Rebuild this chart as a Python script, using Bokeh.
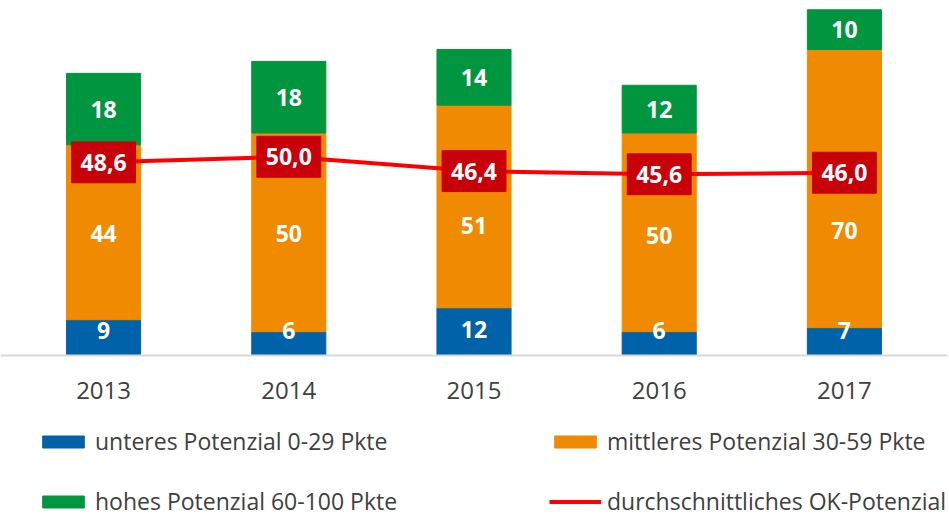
from bokeh.plotting import figure
from bokeh.models import Legend, LegendItem, ColumnDataSource, Range1d, FactorRange
from bokeh.core.properties import value
from bokeh.embed import file_html
from bokeh.resources import INLINE

years = ["2013", "2014", "2015", "2016", "2017"]
unteres = [9, 6, 12, 6, 7]
mittleres = [44, 50, 51, 50, 70]
hohes = [18, 18, 14, 12, 10]
durchschnitt = [48.6, 50.0, 46.4, 45.6, 46.0]

# label anchor heights (as placed in the original chart)
unteres_label_y = [6.3, 6.3, 6.5, 6.3, 6.3]
mittleres_label_y = [30.7, 30.7, 32.7, 30.2, 31.5]

BLUE = "#0062A8"
ORANGE = "#F08A00"
GREEN = "#009640"
RED_LINE = "#FF0000"
RED_BOX = "#C8000A"
TXT = "#404040"
FONT = "Open Sans"

mid_top = [a + b for a, b in zip(unteres, mittleres)]
high_top = [a + b for a, b in zip(mid_top, hohes)]
high_label_y = [(a + b) / 2 for a, b in zip(mid_top, high_top)]

src = ColumnDataSource(dict(
    x=years, low=unteres, mid_b=unteres, mid_t=mid_top, high_t=high_top,
    avg=durchschnitt,
    low_lbl=[str(v) for v in unteres], mid_lbl=[str(v) for v in mittleres],
    high_lbl=[str(v) for v in hohes],
    avg_lbl=[f"{v:.1f}".replace(".", ",") for v in durchschnitt],
    low_y=unteres_label_y, mid_y=mittleres_label_y, high_y=high_label_y,
))

p = figure(width=949, height=517,
           x_range=FactorRange(*years, range_padding=0.0567, range_padding_units="absolute"),
           y_range=Range1d(-40.77, 89.33), output_backend="svg", toolbar_location=None,
           min_border_left=0, min_border_right=2, min_border_top=0, min_border_bottom=0)
p.outline_line_color = None
p.xgrid.visible = False
p.ygrid.visible = False
p.yaxis.visible = False
p.xaxis.fixed_location = 0
p.xaxis.axis_line_color = "#D9D9D9"
p.xaxis.axis_line_width = 2
p.xaxis.major_tick_line_color = None
p.xaxis.minor_tick_line_color = None
p.xaxis.major_label_text_font = FONT
p.xaxis.major_label_text_font_size = "24px"
p.xaxis.major_label_text_color = TXT
p.xaxis.major_label_standoff = 21

r_low = p.vbar(x="x", bottom=0, top="low", width=0.4, color=BLUE, source=src)
r_mid = p.vbar(x="x", bottom="mid_b", top="mid_t", width=0.4, color=ORANGE, source=src)
r_high = p.vbar(x="x", bottom="mid_t", top="high_t", width=0.4, color=GREEN, source=src)
r_line = p.line(x="x", y="avg", color=RED_LINE, line_width=4, source=src)
p.rect(x="x", y="avg", width=0.345, height=10.3, color=RED_BOX, source=src)

common = dict(text_color="white", text_font=value(FONT), text_font_style="bold",
              text_font_size="23px", text_align="center", text_baseline="middle", source=src)
p.text(x="x", y="low_y", text="low_lbl", **common)
p.text(x="x", y="mid_y", text="mid_lbl", **common)
p.text(x="x", y="high_y", text="high_lbl", **common)
p.text(x="x", y="avg", text="avg_lbl", **common)

leg_style = dict(label_text_font=FONT, label_text_font_size="23px", label_text_color=TXT,
                 glyph_width=52, glyph_height=15, label_standoff=6, label_height=30,
                 spacing=28, padding=0, margin=0, border_line_color=None,
                 background_fill_alpha=0)
leg1 = Legend(items=[LegendItem(label="unteres Potenzial 0-29 Pkte", renderers=[r_low]),
                     LegendItem(label="hohes Potenzial 60-100 Pkte", renderers=[r_high])],
              location=(37, 0), **leg_style)
leg2 = Legend(items=[LegendItem(label="mittleres Potenzial 30-59 Pkte", renderers=[r_mid]),
                     LegendItem(label="durchschnittliches OK-Potenzial", renderers=[r_line])],
              location=(549, 0), **leg_style)
p.add_layout(leg1)
p.add_layout(leg2)

open("out.html", "w").write(file_html(p, INLINE))
